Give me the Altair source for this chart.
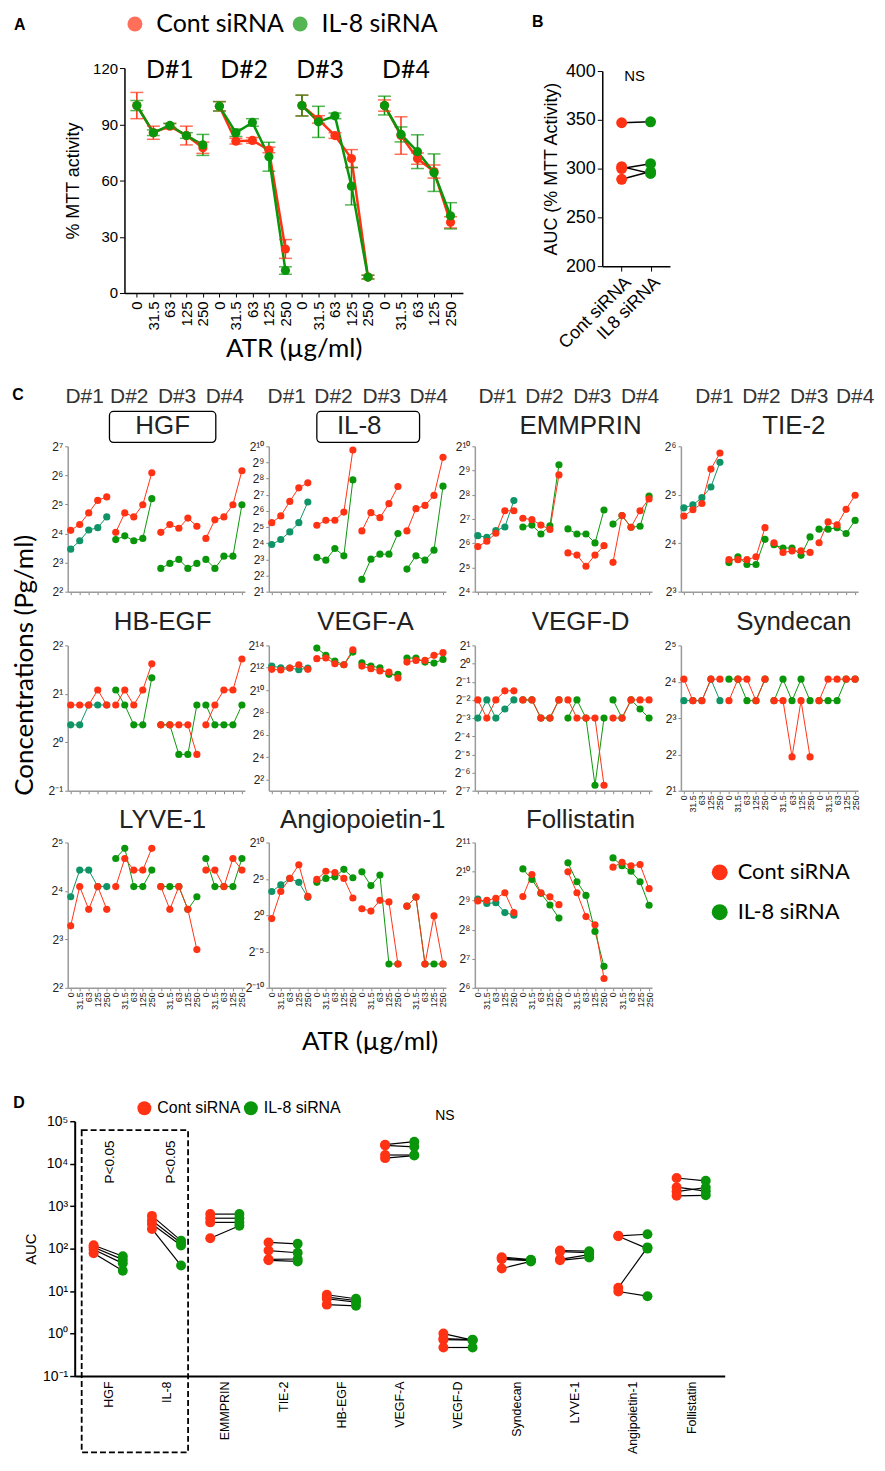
import altair as alt
import pandas as pd

RED = "#FF3214"
GREEN = "#0A960A"
TEAL = "#0F9466"
SUP = "['⁰','¹','²','³','⁴','⁵','⁶','⁷','⁸','⁹']"
DOSE_EXPR = "['0','31.5','63','125','250'][datum.value % 5]"
GROUPS = ["Cont siRNA", "IL-8 siRNA"]
SANS = "Liberation Sans"
HUM = "Lato"

# ---------------- Panel A data (mean % MTT activity, sd) ----------------
a_positions = list(range(20))
a_cont_mean = [100, 85.5, 89, 84, 77.5, 99.6, 81, 81.4, 76.3, 23.5,
               100, 92.6, 84, 71.7, 8.5, 100, 84, 71.7, 64.8, 37.7]
a_cont_sd = [7, 3.5, 1.5, 5, 3, 2.5, 1.5, 1.5, 1.5, 5,
             5.5, 2, 1.5, 4.8, 1, 3, 10, 3, 3.5, 3]
a_il8_mean = [100, 85.5, 89.4, 84, 79, 99.6, 85.5, 91, 72.7, 12,
              100, 91.3, 94.5, 57, 8.5, 100, 84.6, 75.4, 64.2, 41.2]
a_il8_sd = [2.7, 1.5, 1, 1.5, 5.6, 2.5, 2, 2, 7.7, 2,
            5.6, 8.3, 1.5, 10, 1, 5, 4, 9, 10, 7]
donor_labels = ["D#1", "D#2", "D#3", "D#4"]
a_donor_pos = [2.0, 6.5, 11.1, 16.3]

# ---------------- Panel B data (AUC) ----------------
b_cont = [347, 302, 300, 289]
b_il8 = [348, 295, 305, 297]

# ---------------- Panel C data (log2 concentration, 4 donors x 5 doses) ----------------
hgf_cont = [4.11, 4.31, 4.71, 5.14, 5.26, 4.04, 4.71, 4.57, 4.99, 6.09,
            4.04, 4.31, 4.18, 4.53, 4.25, 3.83, 4.47, 4.57, 4.99, 6.16]
hgf_il8 = [3.46, 3.75, 4.12, 4.20, 4.57, 3.79, 3.92, 3.75, 3.83, 5.20,
           2.80, 2.97, 3.11, 2.80, 2.97, 3.11, 2.80, 3.22, 3.22, 4.99]
il8_cont = [5.27, 5.69, 6.59, 7.43, 7.74, 5.11, 5.42, 5.42, 5.93, 9.77,
            4.76, 5.89, 5.58, 6.45, 7.51, 4.76, 6.14, 6.34, 6.96, 9.32]
il8_il8 = [3.92, 4.23, 4.70, 5.27, 6.55, 3.12, 2.95, 3.67, 3.22, 7.92,
           1.76, 3.01, 3.32, 3.32, 4.60, 2.40, 3.22, 2.95, 3.57, 7.53]
emm_cont = [5.86, 6.08, 6.41, 7.34, 7.34, 7.03, 6.97, 6.75, 6.57, 8.82,
            5.60, 5.51, 5.05, 5.51, 5.90, 5.21, 7.14, 6.66, 7.34, 7.83]
emm_il8 = [6.31, 6.24, 6.52, 6.67, 7.76, 6.67, 6.75, 6.38, 6.72, 9.24,
           6.59, 6.38, 6.38, 6.01, 7.37, 6.79, 7.14, 6.66, 6.70, 7.94]
tie_cont = [4.56, 4.69, 4.82, 5.53, 5.86, 3.66, 3.66, 3.66, 3.72, 4.32,
            4.01, 3.81, 3.84, 3.84, 3.81, 4.01, 4.44, 4.38, 4.70, 4.99]
tie_il8 = [4.73, 4.79, 4.94, 5.16, 5.67, 3.60, 3.72, 3.56, 3.56, 4.08,
           3.97, 3.90, 3.90, 3.75, 4.13, 4.29, 4.29, 4.32, 4.20, 4.47]
hb_cont = [0.77, 0.77, 0.77, 1.08, 0.77, 0.77, 1.08, 0.77, 1.08, 1.62,
           0.36, 0.36, 0.36, 0.36, -0.25, 0.36, 0.77, 1.08, 1.08, 1.72]
hb_il8 = [0.36, 0.36, 0.77, 0.77, 0.77, 1.08, 0.77, 0.36, 0.36, 1.33,
          0.36, 0.36, -0.25, -0.25, 0.77, 0.77, 0.36, 0.36, 0.36, 0.77]
vega_cont = [11.86, 11.80, 11.98, 12.27, 11.86, 12.81, 12.87, 12.36, 12.27, 13.61,
             12.15, 11.92, 11.71, 11.62, 11.08, 12.51, 12.66, 12.66, 13.11, 13.35]
vega_il8 = [12.15, 12.00, 11.98, 11.83, 11.98, 13.76, 13.11, 12.60, 12.27, 13.40,
            12.45, 12.15, 12.00, 11.41, 11.41, 12.87, 12.87, 12.51, 12.42, 12.75]
vegd_cont = [-2.0, -3.0, -2.0, -1.5, -1.5, -2.0, -2.0, -3.0, -3.0, -2.0,
             -2.0, -3.0, -3.0, -3.0, -6.7, -3.0, -3.0, -2.0, -2.0, -2.0]
vegd_il8 = [-3.0, -2.0, -3.0, -2.5, -2.0, -2.0, -2.0, -3.0, -3.0, -2.0,
            -3.0, -2.0, -3.0, -6.7, -3.0, -2.0, -3.0, -2.0, -2.5, -3.0]
syn_cont = [4.07, 3.48, 3.48, 4.07, 4.07, 3.48, 4.07, 4.07, 3.48, 4.07,
            3.48, 3.48, 1.93, 3.48, 1.93, 3.48, 4.07, 4.07, 4.07, 4.07]
syn_il8 = [3.48, 3.48, 3.48, 4.07, 3.48, 4.07, 4.07, 3.48, 3.48, 4.07,
           3.48, 4.07, 3.48, 4.07, 3.48, 3.48, 3.48, 3.48, 4.07, 4.07]
lyve_cont = [3.28, 4.09, 3.62, 4.09, 3.62, 4.09, 4.67, 4.43, 4.43, 4.88,
             4.09, 3.62, 4.09, 3.62, 2.79, 4.43, 4.43, 4.09, 4.67, 4.43]
lyve_il8 = [3.88, 4.43, 4.43, 4.09, 4.09, 4.67, 4.88, 4.09, 4.09, 4.43,
            4.09, 4.09, 4.09, 3.62, 3.88, 4.67, 4.09, 4.09, 4.09, 4.67]
ang_cont = [-0.47, 3.26, 5.06, 6.94, 2.58, 4.92, 6.04, 5.87, 5.06, 2.36,
            0.88, 0.56, 2.04, 1.82, -6.72, 1.24, 2.49, -6.72, -0.11, -6.72]
ang_il8 = [3.26, 4.16, 5.06, 4.52, 2.45, 4.52, 5.06, 5.28, 6.31, 5.15,
           5.96, 4.07, 5.51, -6.72, -6.72, 1.24, 2.49, -6.72, -6.72, -6.72]
fol_cont = [8.99, 9.01, 9.08, 9.27, 8.59, 9.14, 9.90, 9.27, 9.13, 8.86,
            9.99, 9.27, 8.45, 8.17, 6.32, 10.15, 10.32, 10.20, 10.24, 9.41]
fol_il8 = [9.05, 8.90, 8.93, 8.59, 8.50, 10.09, 9.73, 9.25, 8.85, 8.40,
           10.30, 9.65, 9.18, 7.94, 6.74, 10.47, 10.20, 10.01, 9.65, 8.84]

# ---------------- Panel D data (AUC, 4 donors) ----------------
d_names = ["HGF", "IL-8", "EMMPRIN", "TIE-2", "HB-EGF", "VEGF-A", "VEGF-D",
           "Syndecan", "LYVE-1", "Angipoietin-1", "Follistatin"]
d_cont = [[120, 108, 95, 78], [590, 460, 380, 290], [650, 520, 415, 175],
          [140, 90, 56, 53], [8.2, 7.2, 6.6, 4.8], [28000, 27000, 16000, 13500],
          [1.0, 0.76, 0.72, 0.47], [63, 60, 56, 34], [90, 85, 56, 53],
          [200, 195, 12, 9.8], [4600, 2800, 2200, 1750]]
d_il8 = [[66, 55, 45, 30], [154, 135, 118, 40], [650, 520, 415, 345],
         [130, 80, 57, 50], [6.6, 6.0, 5.5, 4.5], [33000, 25000, 16000, 15500],
         [0.70, 0.72, 0.70, 0.47], [55, 53, 52, 50], [87, 80, 72, 62],
         [218, 100, 107, 7.6], [3950, 2250, 2750, 1800]]


def pow2_expr():
    v = "datum.value"
    return (f"'2' + ({v} < 0 ? '⁻' : '') + (abs({v}) >= 10 ? {SUP}[floor(abs({v}) / 10)] : '')"
            f" + {SUP}[abs({v}) % 10]")


def pow10_expr():
    e = "round(log(datum.value) / LN10)"
    return f"'10' + ({e} < 0 ? '⁻' : '') + {SUP}[abs({e})]"


def spacer(w, h):
    return alt.Chart(pd.DataFrame({"v": [0]})).mark_point(opacity=0, size=1).encode(
        x=alt.X("v:Q", axis=None), y=alt.Y("v:Q", axis=None)
    ).properties(width=w, height=h)


def indep(ch):
    return ch.resolve_scale(color="independent").resolve_legend(color="independent")


# ================= Panel A =================
rows = []
for g, means, sds, col, k in [("Cont siRNA", a_cont_mean, a_cont_sd, RED, "1"),
                              ("IL-8 siRNA", a_il8_mean, a_il8_sd, GREEN, "2")]:
    for i, (m, s) in enumerate(zip(means, sds)):
        rows.append(dict(group=g, key=f"{k}-{i // 5}", pos=i, mean=m, lo=m - s, hi=m + s, colr=col))
a_df = pd.DataFrame(rows)


def a_x():
    return alt.X("pos:Q", scale=alt.Scale(domain=[-0.75, 19.75], nice=False, zero=False),
                 axis=alt.Axis(values=a_positions, labelExpr=DOSE_EXPR, labelAngle=-90, labelFontSize=15,
                               labelColor="black", labelPadding=4, tickSize=4, tickColor="black",
                               domainColor="black", domainWidth=1.5, grid=False,
                               title="ATR (µg/ml)", titleFont=HUM, titleFontSize=26,
                               titleFontWeight="normal", titleColor="black", titlePadding=6))


def a_y(field):
    return alt.Y(f"{field}:Q", scale=alt.Scale(domain=[0, 120], nice=False, zero=False),
                 axis=alt.Axis(values=[0, 30, 60, 90, 120], labelFontSize=15, labelColor="black",
                               tickSize=5, tickColor="black", domainColor="black", domainWidth=1.5,
                               grid=False, title="% MTT activity", titleFontSize=18,
                               titleFontWeight="normal", titleColor="black", titlePadding=10))


a_lines = alt.Chart(a_df).mark_line(strokeWidth=2.5).encode(
    x=a_x(), y=a_y("mean"), detail="key:N", color=alt.Color("colr:N", scale=None))
a_bars = alt.Chart(a_df).mark_rule(strokeWidth=1.5).encode(
    x=a_x(), y=a_y("lo"), y2="hi:Q", color=alt.Color("colr:N", scale=None))
a_cap_lo = alt.Chart(a_df).mark_tick(orient="horizontal", size=13, thickness=1.5).encode(
    x=a_x(), y=a_y("lo"), color=alt.Color("colr:N", scale=None))
a_cap_hi = alt.Chart(a_df).mark_tick(orient="horizontal", size=13, thickness=1.5).encode(
    x=a_x(), y=a_y("hi"), color=alt.Color("colr:N", scale=None))
a_pts = alt.Chart(a_df).mark_circle(size=85, opacity=1).encode(
    x=a_x(), y=a_y("mean"),
    color=alt.Color("group:N", scale=alt.Scale(domain=GROUPS, range=[RED, GREEN]),
                    legend=alt.Legend(title=None, orient="none", legendX=-2, legendY=-57,
                                      direction="horizontal", symbolType="circle", symbolSize=225,
                                      symbolStrokeWidth=0, labelFont=HUM, labelFontSize=25,
                                      labelColor="black", labelOffset=9, columnPadding=3,
                                      padding=0)))
a_hdr = alt.Chart(pd.DataFrame({"pos": a_donor_pos, "mean": [118.8] * 4, "label": donor_labels})).mark_text(
    font=HUM, fontSize=25, color="black").encode(x=a_x(), y=a_y("mean"), text="label:N")
a_letter = alt.Chart(pd.DataFrame({"pos": [-7.1], "mean": [142.9], "label": ["A"]})).mark_text(
    font=SANS, fontSize=16, fontWeight="bold", color="black").encode(x=a_x(), y=a_y("mean"), text="label:N")
chartA = alt.layer(a_lines, a_bars, a_cap_lo, a_cap_hi, a_pts, a_hdr, a_letter).properties(width=340, height=226)

# ================= Panel B =================
rows = []
for j in range(4):
    rows.append(dict(group="Cont siRNA", pos=0, auc=b_cont[j], key=f"d{j}", colr=RED))
    rows.append(dict(group="IL-8 siRNA", pos=1, auc=b_il8[j], key=f"d{j}", colr=GREEN))
b_df = pd.DataFrame(rows)


def b_x():
    return alt.X("pos:Q", scale=alt.Scale(domain=[-0.67, 1.67], nice=False, zero=False),
                 axis=alt.Axis(values=[0, 1], labelExpr="datum.value == 0 ? 'Cont siRNA' : 'IL8 siRNA'",
                               labelAngle=-45, labelFontSize=18, labelColor="black", tickSize=5,
                               tickColor="black", domainColor="black", domainWidth=1.5, grid=False,
                               title=None, labelPadding=2))


def b_y():
    return alt.Y("auc:Q", scale=alt.Scale(domain=[200, 400], nice=False, zero=False),
                 axis=alt.Axis(values=[200, 250, 300, 350, 400], labelFontSize=18, labelColor="black",
                               tickSize=5, tickColor="black", domainColor="black", domainWidth=1.5,
                               grid=False, title="AUC (% MTT Activity)", titleFontSize=18,
                               titleFontWeight="normal", titleColor="black", titlePadding=5))


b_lines = alt.Chart(b_df).mark_line(color="black", strokeWidth=1.5).encode(x=b_x(), y=b_y(), detail="key:N")
b_pts = alt.Chart(b_df).mark_circle(size=120, opacity=1).encode(
    x=b_x(), y=b_y(), color=alt.Color("colr:N", scale=None))
b_ns = alt.Chart(pd.DataFrame({"pos": [0.45], "auc": [395], "label": ["NS"]})).mark_text(
    font=SANS, fontSize=15, color="black").encode(x=b_x(), y=b_y(), text="label:N")
b_letter = alt.Chart(pd.DataFrame({"pos": [-2.9], "auc": [450], "label": ["B"]})).mark_text(
    font=SANS, fontSize=16, fontWeight="bold", color="black").encode(x=b_x(), y=b_y(), text="label:N")
chartB = alt.layer(b_lines, b_pts, b_ns, b_letter).properties(width=68, height=196)

# ================= Panel C =================
C_W, C_H = 178, 146
CK_DOMAIN = ["Cont siRNA", "IL-8 siRNA", "IL-8 siRNA D#1"]


def c_panel(name, cont, il8, lo, hi, ticks, show_x, title_x, title_px,
            hdr_x=None, box=None, legend=False, extras=()):
    ppu = C_H / (hi - lo)
    rows = []
    for g, vals, k in [("IL-8 siRNA", il8, "1"), ("Cont siRNA", cont, "2")]:
        for i, v in enumerate(vals):
            ck = "IL-8 siRNA D#1" if (g == "IL-8 siRNA" and i < 5) else g
            colr = RED if g == "Cont siRNA" else (TEAL if i < 5 else GREEN)
            rows.append(dict(group=g, ck=ck, key=f"{k}-{i // 5}", pos=i, val=v, colr=colr))
    df = pd.DataFrame(rows)
    X = alt.X("pos:Q", scale=alt.Scale(domain=[-0.33, 19.33], nice=False, zero=False),
              axis=alt.Axis(values=list(range(20)), labels=show_x, labelExpr=DOSE_EXPR, labelAngle=-90,
                            labelFontSize=9, labelColor="#222", labelPadding=1, tickSize=3,
                            tickColor="#888", domainColor="#9a9a9a", domainWidth=1.5, grid=False,
                            title=None))
    Y = alt.Y("val:Q", scale=alt.Scale(domain=[lo, hi], nice=False, zero=False),
              axis=alt.Axis(values=ticks, labelExpr=pow2_expr(), labelFontSize=12, labelColor="#222",
                            labelPadding=2, tickSize=3, tickColor="#888", domainColor="#9a9a9a",
                            domainWidth=1.5, grid=False, title=None))
    if legend:
        leg = alt.Legend(values=GROUPS, title=None, orient="none", legendX=235, legendY=19,
                         direction="vertical", symbolType="circle", symbolSize=256, symbolStrokeWidth=0,
                         labelFont=HUM, labelFontSize=22, labelColor="black", labelOffset=7,
                         rowPadding=18, padding=0)
    else:
        leg = None
    color = alt.Color("ck:N", scale=alt.Scale(domain=CK_DOMAIN, range=[RED, GREEN, TEAL]), legend=leg)
    layers = [
        alt.Chart(df).mark_line(strokeWidth=1).encode(x=X, y=Y, detail="key:N",
                                                      color=alt.Color("colr:N", scale=None)),
        alt.Chart(df).mark_circle(size=52, opacity=1).encode(x=X, y=Y, color=color),
    ]
    tdf = pd.DataFrame({"pos": [title_x], "val": [hi + title_px / ppu], "label": [name]})
    layers.append(alt.Chart(tdf).mark_text(font=SANS, fontSize=26, color="#222").encode(
        x=X, y=Y, text="label:N"))
    if hdr_x is not None:
        hdf = pd.DataFrame({"pos": hdr_x, "val": [hi + 50 / ppu] * 4, "label": donor_labels})
        layers.append(alt.Chart(hdf).mark_text(font=SANS, fontSize=21, color="#333").encode(
            x=X, y=Y, text="label:N"))
    if box is not None:
        bdf = pd.DataFrame({"pos": [box[0]], "pos2": [box[1]],
                            "val": [hi + 35 / ppu], "val2": [hi + 4 / ppu]})
        layers.append(alt.Chart(bdf).mark_rect(fillOpacity=0, stroke="black", strokeWidth=1.3,
                                               cornerRadius=4).encode(x=X, x2="pos2:Q", y=Y, y2="val2:Q"))
    for (ex, ey, etext, kw) in extras:
        edf = pd.DataFrame({"pos": [ex], "val": [ey], "label": [etext]})
        layers.append(alt.Chart(edf).mark_text(**kw).encode(x=X, y=Y, text="label:N"))
    return alt.layer(*layers).properties(width=C_W, height=C_H)


p_hgf = c_panel("HGF", hgf_cont, hgf_il8, 2, 7, [2, 3, 4, 5, 6, 7], False, 10.2, 20,
                hdr_x=[1.55, 6.5, 11.8, 17.1], box=(4.3, 16.1),
                extras=[(-5.86, 8.75, "C", dict(font=SANS, fontSize=16, fontWeight="bold", color="black"))])
p_il8 = c_panel("IL-8", il8_cont, il8_il8, 1, 10, list(range(1, 11)), False, 9.7, 20,
                hdr_x=[1.66, 6.85, 12.2, 17.4], box=(5.0, 16.4))
p_emm = c_panel("EMMPRIN", emm_cont, emm_il8, 4, 10, list(range(4, 11)), False, 11.4, 20,
                hdr_x=[2.2, 7.4, 12.7, 18.0])
p_tie = c_panel("TIE-2", tie_cont, tie_il8, 3, 6, [3, 4, 5, 6], False, 12.2, 20,
                hdr_x=[3.4, 8.6, 13.9, 19.0])
p_hb = c_panel("HB-EGF", hb_cont, hb_il8, -1, 2, [-1, 0, 1, 2], False, 10.2, 23,
               extras=[(-5.08, 1.59, "Concentrations (Pg/ml)",
                        dict(font=HUM, fontSize=26, color="black", angle=270))])
p_vega = c_panel("VEGF-A", vega_cont, vega_il8, 1, 14, [2, 4, 6, 8, 10, 12, 14], False, 10.4, 23)
p_vegd = c_panel("VEGF-D", vegd_cont, vegd_il8, -7, 1, list(range(-7, 2)), False, 11.4, 23)
p_syn = c_panel("Syndecan", syn_cont, syn_il8, 1, 5, [1, 2, 3, 4, 5], True, 12.2, 23)
p_lyve = c_panel("LYVE-1", lyve_cont, lyve_il8, 2, 5, [2, 3, 4, 5], True, 10.2, 23)
p_ang = c_panel("Angiopoietin-1", ang_cont, ang_il8, -10, 10, [-10, -5, 0, 5, 10], True, 10.1, 23,
                extras=[(10.9, -17.5, "ATR (µg/ml)", dict(font=HUM, fontSize=26, color="black"))])
p_fol = c_panel("Follistatin", fol_cont, fol_il8, 6, 11, [6, 7, 8, 9, 10, 11], True, 11.4, 23, legend=True)

# ================= Panel D =================
rows = []
for i, name in enumerate(d_names):
    for j in range(4):
        rows.append(dict(group="Cont siRNA", pos=2 * i, auc=d_cont[i][j], key=f"{i}-{j}"))
        rows.append(dict(group="IL-8 siRNA", pos=2 * i + 1, auc=d_il8[i][j], key=f"{i}-{j}"))
d_df = pd.DataFrame(rows)
NAMES_EXPR = "[" + ",".join(f"'{n}'" for n in d_names) + "][floor(datum.value / 2)]"


def d_x():
    return alt.X("pos:Q", scale=alt.Scale(domain=[-0.65, 21.65], nice=False, zero=False),
                 axis=alt.Axis(values=[2 * i + 0.5 for i in range(len(d_names))], labelExpr=NAMES_EXPR,
                               labelAngle=-90, labelFontSize=12.5, labelColor="black", ticks=False,
                               domainColor="black", domainWidth=2, labelPadding=5, grid=False, title=None))


def d_y():
    return alt.Y("auc:Q", scale=alt.Scale(type="log", domain=[0.1, 100000], nice=False),
                 axis=alt.Axis(values=[0.1, 1, 10, 100, 1000, 10000, 100000], labelExpr=pow10_expr(),
                               labelFontSize=14, labelColor="black", tickSize=5, tickColor="black",
                               tickWidth=1.5, domainColor="black", domainWidth=2, grid=False,
                               title="AUC", titleFontSize=15, titleFontWeight="normal",
                               titleColor="black", titlePadding=4))


d_lines = alt.Chart(d_df).mark_line(color="black", strokeWidth=1.2).encode(x=d_x(), y=d_y(), detail="key:N")
d_pts = alt.Chart(d_df).mark_circle(size=100, opacity=1).encode(
    x=d_x(), y=d_y(),
    color=alt.Color("group:N", scale=alt.Scale(domain=GROUPS, range=[RED, GREEN]),
                    legend=alt.Legend(title=None, orient="none", legendX=62, legendY=-21,
                                      direction="horizontal", symbolType="circle", symbolSize=196,
                                      symbolStrokeWidth=0, labelFontSize=16, labelColor="black",
                                      labelOffset=5, columnPadding=2, padding=0)))
d_box = alt.Chart(pd.DataFrame({"pos": [-0.41], "pos2": [3.24], "auc": [61500], "auc2": [0.0016]})).mark_rect(
    fillOpacity=0, stroke="black", strokeWidth=1.8, strokeDash=[6, 3]).encode(
    x=d_x(), x2="pos2:Q", y=d_y(), y2="auc2:Q")
d_p = alt.Chart(pd.DataFrame({"pos": [0.55, 2.66], "auc": [11000, 11000], "label": ["P<0.05", "P<0.05"]})).mark_text(
    font=SANS, fontSize=13.5, color="black", angle=270).encode(x=d_x(), y=d_y(), text="label:N")
d_ns = alt.Chart(pd.DataFrame({"pos": [12.05], "auc": [131000], "label": ["NS"]})).mark_text(
    font=SANS, fontSize=14, color="black").encode(x=d_x(), y=d_y(), text="label:N")
d_letter = alt.Chart(pd.DataFrame({"pos": [-2.56], "auc": [263000], "label": ["D"]})).mark_text(
    font=SANS, fontSize=16, fontWeight="bold", color="black").encode(x=d_x(), y=d_y(), text="label:N")
chartD = alt.layer(d_box, d_lines, d_pts, d_p, d_ns, d_letter).properties(width=653, height=256)

# ================= Layout =================
# Rows are nested flush groups (which occupy no height in a flush parent), so the
# vertical spacers set the distance from one row's plot top to the next.
rowAB = indep(alt.hconcat(spacer(57, 2), chartA, spacer(140, 2),
                          alt.vconcat(spacer(68, 3), chartB, spacing=0, bounds="flush"),
                          spacing=0, bounds="flush"))
row1 = indep(alt.hconcat(p_hgf, spacer(24, 2), p_il8, spacer(29, 2), p_emm, spacer(29, 2), p_tie,
                         spacing=0, bounds="flush"))
row2 = indep(alt.hconcat(p_hb, spacer(24, 2), p_vega, spacer(29, 2), p_vegd, spacer(29, 2), p_syn,
                         spacing=0, bounds="flush"))
row3 = indep(alt.hconcat(p_lyve, spacer(24, 2), p_ang, spacer(29, 2), p_fol,
                         spacing=0, bounds="flush"))
rowD = indep(alt.hconcat(spacer(7, 2), chartD, spacing=0, bounds="flush"))

chart = indep(alt.vconcat(rowAB, spacer(1, 380), row1, spacer(1, 200), row2, spacer(1, 198), row3,
                          spacer(1, 280), rowD, spacing=0, bounds="flush")).properties(
    padding={"left": 3, "top": 0, "right": 2, "bottom": 0}
).configure(font=SANS).configure_view(strokeWidth=0).configure_axis(grid=False)

chart.save("out.html", embed_options={"renderer": "svg", "actions": False})
